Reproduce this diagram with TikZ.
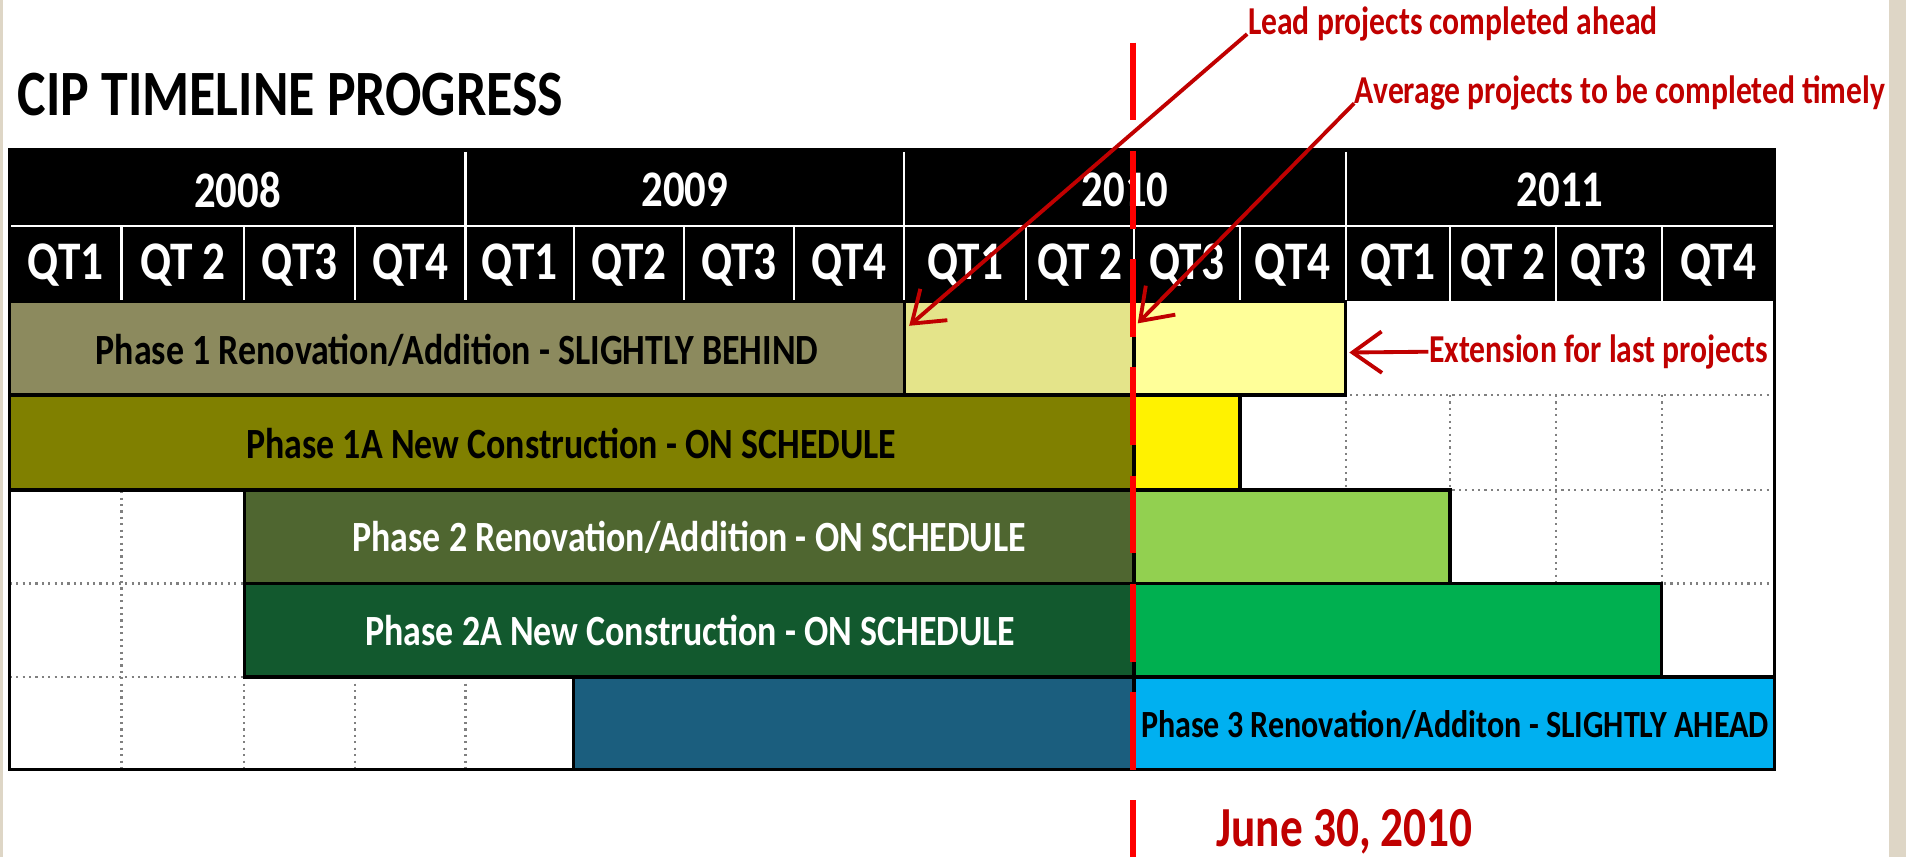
\documentclass[tikz,border=0pt]{standalone}
\usepackage{fontspec}
\setmainfont{Carlito}
\usetikzlibrary{arrows.meta}

\definecolor{slidebeige}{HTML}{DED6C6}
\definecolor{phaseone}{HTML}{8C8A5E}
\definecolor{leadcell}{HTML}{E4E48A}
\definecolor{extcell}{HTML}{FFFF99}
\definecolor{phaseoneA}{HTML}{808000}
\definecolor{phasetwo}{HTML}{4F6630}
\definecolor{phasetwoA}{HTML}{12592E}
\definecolor{phasethree}{HTML}{1B5E7E}
\definecolor{lightgreen}{HTML}{92D050}
\definecolor{midgreen}{HTML}{00B050}
\definecolor{skyblue}{HTML}{00B0F0}
\definecolor{notered}{HTML}{C00000}

\begin{document}
\begin{tikzpicture}[x=0.01cm, y=-0.01cm,
  bar/.style={draw=black, line width=0.8pt},
  gridline/.style={gray, densely dotted, line width=0.5pt},
  headline/.style={white, line width=0.5pt},
  yearlbl/.style={text=white, font=\fontsize{10}{12}\selectfont\bfseries, yscale=1.2},
  qlbl/.style={text=white, font=\fontsize{10.6}{12}\selectfont\bfseries, yscale=1.2},
  barlbl/.style={font=\fontsize{8.4}{10}\selectfont\bfseries, yscale=1.2},
  notelbl/.style={text=notered, anchor=base west, inner sep=0pt, font=\fontsize{7.4}{9}\selectfont\bfseries, yscale=1.25},
  note/.style={notered, line width=0.9pt, -{Straight Barb[length=2.4mm, width=3.4mm]}}]

\useasboundingbox (0,0) rectangle (1568,705);
\fill[white] (0,0) rectangle (1568,705);
\fill[slidebeige] (0,0) rectangle (2.5,705);
\fill[slidebeige] (1554,0) rectangle (1568,705);

\node (title) at (14,95) [anchor=base west, inner sep=0pt, font=\fontsize{12.6}{14}\selectfont\bfseries, yscale=1.2] {CIP TIMELINE PROGRESS};

% header
\fill[black] (8,123) rectangle (1460,248);
\draw [headline] (8,186) -- (1460,186);
\draw [headline] (383,125) -- (383,248);
\draw [headline] (744,125) -- (744,248);
\draw [headline] (1107,125) -- (1107,248);
\draw [headline] (100,186) -- (100,248);
\draw [headline] (201,186) -- (201,248);
\draw [headline] (292,186) -- (292,248);
\draw [headline] (472,186) -- (472,248);
\draw [headline] (563,186) -- (563,248);
\draw [headline] (653,186) -- (653,248);
\draw [headline] (844,186) -- (844,248);
\draw [headline] (933,186) -- (933,248);
\draw [headline] (1020,186) -- (1020,248);
\draw [headline] (1193,186) -- (1193,248);
\draw [headline] (1280,186) -- (1280,248);
\draw [headline] (1367,186) -- (1367,248);

\node (y2008) at (195.5,156) [yearlbl] {2008};
\node (y2009) at (563.5,156) [yearlbl] {2009};
\node (y2010) at (925.5,156) [yearlbl] {2010};
\node (y2011) at (1283.5,156) [yearlbl] {2011};

\node (q1) at (54,218) [qlbl] {QT1};
\node (q2) at (150.5,218) [qlbl] {QT 2};
\node (q3) at (246.5,218) [qlbl] {QT3};
\node (q4) at (337.5,218) [qlbl] {QT4};
\node (q5) at (427.5,218) [qlbl] {QT1};
\node (q6) at (517.5,218) [qlbl] {QT2};
\node (q7) at (608,218) [qlbl] {QT3};
\node (q8) at (698.5,218) [qlbl] {QT4};
\node (q9) at (794,218) [qlbl] {QT1};
\node (q10) at (888.5,218) [qlbl] {QT 2};
\node (q11) at (976.5,218) [qlbl] {QT3};
\node (q12) at (1063.5,218) [qlbl] {QT4};
\node (q13) at (1150,218) [qlbl] {QT1};
\node (q14) at (1236.5,218) [qlbl] {QT 2};
\node (q15) at (1323.5,218) [qlbl] {QT3};
\node (q16) at (1413.5,218) [qlbl] {QT4};

% empty cells
\draw [gridline] (8,325) -- (1460,325);
\draw [gridline] (8,403) -- (1460,403);
\draw [gridline] (8,480) -- (1460,480);
\draw [gridline] (8,557) -- (1460,557);
\draw [gridline] (100,325) -- (100,633);
\draw [gridline] (201,325) -- (201,633);
\draw [gridline] (292,325) -- (292,633);
\draw [gridline] (383,325) -- (383,633);
\draw [gridline] (1107,325) -- (1107,633);
\draw [gridline] (1193,325) -- (1193,633);
\draw [gridline] (1280,325) -- (1280,633);
\draw [gridline] (1367,325) -- (1367,633);

% bars
\draw [bar, fill=phaseone] (8,248) rectangle (744,325);
\draw [bar, fill=leadcell] (744,248) rectangle (933,325);
\draw [bar, fill=extcell] (933,248) rectangle (1107,325);

\draw [bar, fill=phaseoneA] (8,325) rectangle (933,403);
\draw [bar, fill=yellow] (933,325) rectangle (1020,403);

\draw [bar, fill=phasetwo] (201,403) rectangle (933,480);
\draw [bar, fill=lightgreen] (933,403) rectangle (1193,480);

\draw [bar, fill=phasetwoA] (201,480) rectangle (933,557);
\draw [bar, fill=midgreen] (933,480) rectangle (1367,557);

\draw [bar, fill=phasethree] (472,557) rectangle (933,633);
\draw [bar, fill=skyblue] (933,557) rectangle (1460,633);

\draw [black, line width=0.8pt] (8,123) rectangle (1460,633);

\node (p1) at (376,288) [barlbl] {Phase 1 Renovation/Addition - SLIGHTLY BEHIND};
\node (p1a) at (470,365) [barlbl] {Phase 1A New Construction - ON SCHEDULE};
\node (p2) at (567,442) [barlbl, text=white] {Phase 2 Renovation/Addition - ON SCHEDULE};
\node (p2a) at (568,519) [barlbl, text=white] {Phase 2A New Construction - ON SCHEDULE};
\node (p3) at (1197,596) [barlbl, font=\fontsize{7.5}{9}\selectfont\bfseries] {Phase 3 Renovation/Additon - SLIGHTLY AHEAD};

% today marker
\coordinate (nowtop) at (932,35);
\coordinate (nowbot) at (932,705);
\draw [red, line width=1.5pt, dash pattern=on 0.64cm off 0.25cm] (nowtop) -- (nowbot);

% notes
\node (leadnote) at (1026,28) [notelbl] {Lead projects completed ahead};
\node (avgnote) at (1114,85) [notelbl] {Average projects to be completed timely};
\node (extnote) at (1175,298) [notelbl] {Extension for last projects};
\node (june) at (1000,696) [notelbl, font=\fontsize{10.6}{12}\selectfont\bfseries] {June 30, 2010};

\coordinate (leadtip) at (748,268);
\coordinate (avgtip) at (936,266);
\coordinate (exttip) at (1110,290);

\draw [note] (leadnote.base west) -- (leadtip);
\draw [note] (avgnote.base west) -- (avgtip);
\draw [note] (extnote.west) -- (exttip);

\end{tikzpicture}
\end{document}
